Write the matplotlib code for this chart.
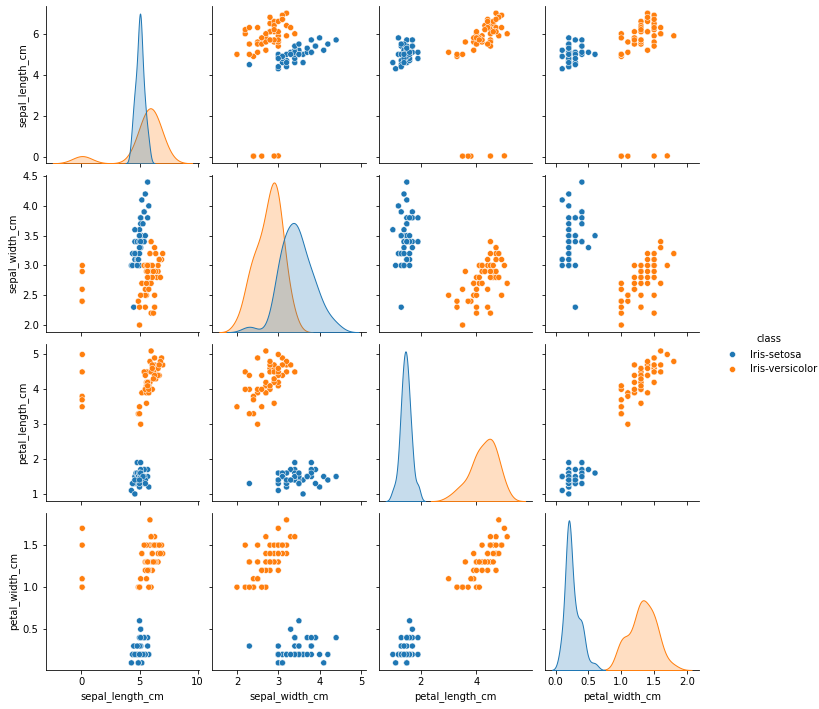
import numpy as np
import pandas as pd
import matplotlib
matplotlib.use("Agg")
import matplotlib.pyplot as plt
import seaborn as sns

# --- DATA (iris, setosa + versicolor; a few versicolor lengths in metres) ---
# setosa rows with a missing petal width are left out
setosa_sepal_length = [5.1, 4.9, 4.7, 4.6, 5.0, 5.4, 4.6, 4.3, 5.8, 5.7, 5.4,
                       5.1, 5.7, 5.1, 5.4, 5.1, 4.6, 5.1, 4.8, 5.0, 5.0, 5.2, 5.2, 4.7, 4.8, 5.4, 5.2, 5.5,
                       4.9, 5.0, 5.5, 4.9, 4.4, 5.1, 5.0, 4.5, 4.4, 5.0, 5.1, 4.8, 5.1, 4.6, 5.3, 5.0]
setosa_sepal_width = [3.5, 3.0, 3.2, 3.1, 3.6, 3.9, 3.4, 3.0, 4.0, 4.4, 3.9,
                      3.5, 3.8, 3.8, 3.4, 3.7, 3.6, 3.3, 3.4, 3.0, 3.4, 3.5, 3.4, 3.2, 3.1, 3.4, 4.1, 4.2,
                      3.1, 3.2, 3.5, 3.1, 3.0, 3.4, 3.5, 2.3, 3.2, 3.5, 3.8, 3.0, 3.8, 3.2, 3.7, 3.3]
setosa_petal_length = [1.4, 1.4, 1.3, 1.5, 1.4, 1.7, 1.4, 1.1, 1.2, 1.5, 1.3,
                       1.4, 1.7, 1.5, 1.7, 1.5, 1.0, 1.7, 1.9, 1.6, 1.6, 1.5, 1.4, 1.6, 1.6, 1.5, 1.5, 1.4,
                       1.5, 1.2, 1.3, 1.5, 1.3, 1.5, 1.3, 1.3, 1.3, 1.6, 1.9, 1.4, 1.6, 1.4, 1.5, 1.4]
setosa_petal_width = [0.2, 0.2, 0.2, 0.2, 0.2, 0.4, 0.3, 0.1, 0.2, 0.4, 0.4,
                      0.3, 0.3, 0.3, 0.2, 0.4, 0.2, 0.5, 0.2, 0.2, 0.4, 0.2, 0.2, 0.2, 0.2, 0.4, 0.1, 0.2,
                      0.1, 0.2, 0.2, 0.1, 0.2, 0.2, 0.3, 0.3, 0.2, 0.6, 0.4, 0.3, 0.2, 0.2, 0.2, 0.2]

versicolor_sepal_length = [7.0, 6.4, 6.9, 5.5, 6.5, 5.7, 6.3, 4.9, 6.6, 5.2, 5.0, 5.9, 6.0, 6.1, 5.6, 6.7, 5.6,
                           5.8, 6.2, 5.6, 5.9, 6.1, 6.3, 6.1, 6.4, 6.6, 6.8, 0.067, 0.060, 0.057, 0.055, 0.055,
                           5.8, 6.0, 5.4, 6.0, 6.7, 6.3, 5.6, 5.5, 5.5, 6.1, 5.8, 5.0, 5.6, 5.7, 5.7, 6.2, 5.1, 5.7]
versicolor_sepal_width = [3.2, 3.2, 3.1, 2.3, 2.8, 2.8, 3.3, 2.4, 2.9, 2.7, 2.0, 3.0, 2.2, 2.9, 2.9, 3.1, 3.0,
                          2.7, 2.2, 2.5, 3.2, 2.8, 2.5, 2.8, 2.9, 3.0, 2.8, 3.0, 2.9, 2.6, 2.4, 2.4,
                          2.7, 2.7, 3.0, 3.4, 3.1, 2.3, 3.0, 2.5, 2.6, 3.0, 2.6, 2.3, 2.7, 3.0, 2.9, 2.9, 2.5, 2.8]
versicolor_petal_length = [4.7, 4.5, 4.9, 4.0, 4.6, 4.5, 4.7, 3.3, 4.6, 3.9, 3.5, 4.2, 4.0, 4.7, 3.6, 4.4, 4.5,
                           4.1, 4.5, 3.9, 4.8, 4.0, 4.9, 4.7, 4.3, 4.4, 4.8, 5.0, 4.5, 3.5, 3.8, 3.7,
                           3.9, 5.1, 4.5, 4.5, 4.7, 4.4, 4.1, 4.0, 4.4, 4.6, 4.0, 3.3, 4.2, 4.2, 4.2, 4.3, 3.0, 4.1]
versicolor_petal_width = [1.4, 1.5, 1.5, 1.3, 1.5, 1.3, 1.6, 1.0, 1.3, 1.4, 1.0, 1.5, 1.0, 1.4, 1.3, 1.4, 1.5,
                          1.0, 1.5, 1.1, 1.8, 1.3, 1.5, 1.2, 1.3, 1.4, 1.4, 1.7, 1.5, 1.0, 1.1, 1.0,
                          1.2, 1.6, 1.5, 1.6, 1.5, 1.3, 1.3, 1.3, 1.2, 1.4, 1.2, 1.0, 1.3, 1.2, 1.3, 1.3, 1.1, 1.3]

classes = ["Iris-setosa", "Iris-versicolor"]

df = pd.DataFrame({
    "sepal_length_cm": setosa_sepal_length + versicolor_sepal_length,
    "sepal_width_cm": setosa_sepal_width + versicolor_sepal_width,
    "petal_length_cm": setosa_petal_length + versicolor_petal_length,
    "petal_width_cm": setosa_petal_width + versicolor_petal_width,
    "class": [classes[0]] * len(setosa_sepal_length) + [classes[1]] * len(versicolor_sepal_length),
})

# --- PLOT ---
g = sns.pairplot(df, hue="class", hue_order=classes)

fig = g.figure
fig.set_size_inches(819 / 72, 709 / 72)
fig.subplots_adjust(left=0.0558, right=0.853, top=0.9915, bottom=0.055,
                    wspace=0.085, hspace=0.074)
sns.move_legend(g, "center left", bbox_to_anchor=(0.87, 0.5), frameon=False)

fig.savefig("out.png", dpi=72)
